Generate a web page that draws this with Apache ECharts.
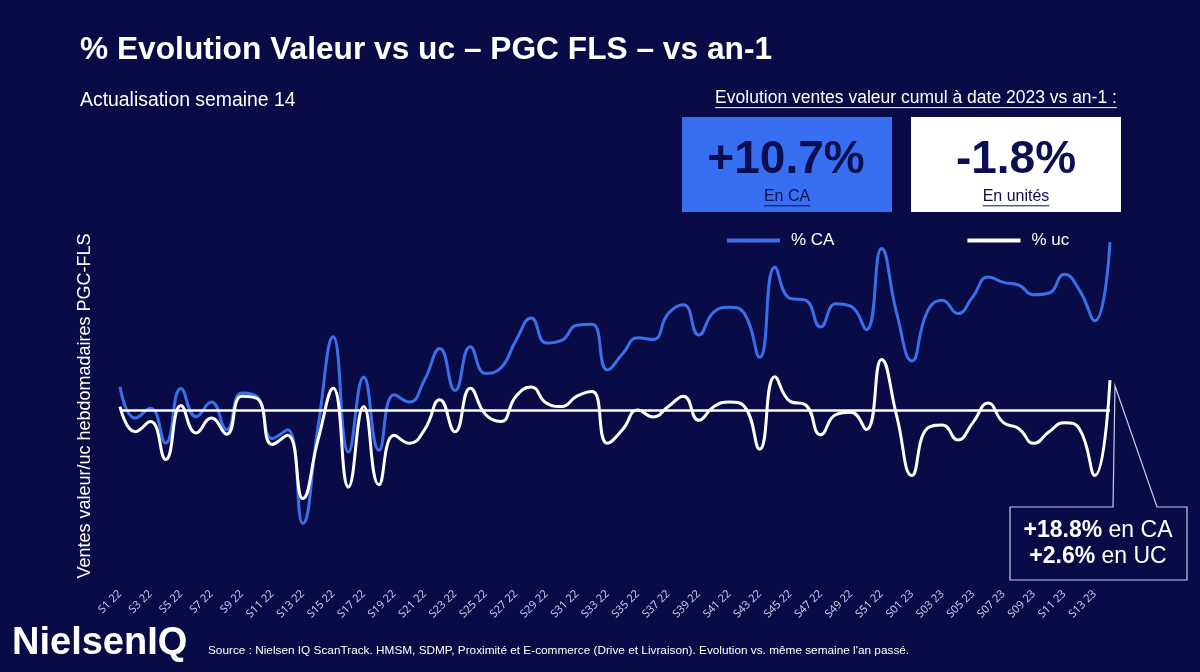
<!DOCTYPE html>
<html><head><meta charset="utf-8">
<script src="https://cdn.jsdelivr.net/npm/echarts/dist/echarts.min.js"></script>
<style>html,body{margin:0;padding:0;background:#090b47;}#c{width:1200px;height:672px;}</style>
</head><body><div id="c"></div>
<script>
// ---- data ----
const weeks = ["S1 22","S2 22","S3 22","S4 22","S5 22","S6 22","S7 22","S8 22","S9 22","S10 22",
"S11 22","S12 22","S13 22","S14 22","S15 22","S16 22","S17 22","S18 22","S19 22","S20 22",
"S21 22","S22 22","S23 22","S24 22","S25 22","S26 22","S27 22","S28 22","S29 22","S30 22",
"S31 22","S32 22","S33 22","S34 22","S35 22","S36 22","S37 22","S38 22","S39 22","S40 22",
"S41 22","S42 22","S43 22","S44 22","S45 22","S46 22","S47 22","S48 22","S49 22","S50 22",
"S51 22","S52 22","S01 23","S02 23","S03 23","S04 23","S05 23","S06 23","S07 23","S08 23",
"S09 23","S10 23","S11 23","S12 23","S13 23","S14 23"];
const caValues = [2.6,-0.9,0.2,-3.7,2.4,-0.75,0.9,-2.2,1.9,1.5,
-3.2,-2.2,-12.7,-1.9,8.2,-4.7,3.7,-4.5,1.7,0.9,
3.4,6.9,2.2,7.1,4.1,4.7,7.8,10.3,7.5,7.8,
9.5,9.6,4.5,6.3,8.1,7.9,10.8,11.8,8.4,11.0,
11.5,10.8,5.9,16.0,12.5,12.3,9.3,11.9,11.6,9.0,
18.1,10.8,5.5,11.0,12.3,10.8,12.7,14.9,14.3,14.0,
12.9,13.1,15.2,13.4,10.0,18.8];
const ucValues = [0.3,-1.9,-1.0,-4.3,0.4,-2.0,-0.7,-2.1,1.2,1.0,
-3.0,-2.2,-7.7,-2.6,1.9,-6.7,0.3,-6.5,-2.2,-2.9,
-1.7,0.9,-1.9,1.9,-0.4,-1.0,1.2,2.0,0.6,0.3,
1.2,1.6,-2.9,-1.7,0.0,-0.6,0.3,1.2,-0.9,0.3,
0.7,0.3,-3.4,2.9,0.75,0.45,-2.15,-0.4,-0.2,-1.7,
4.4,-0.55,-5.7,-1.6,-1.3,-2.6,-1.1,0.6,-1.1,-1.6,
-2.9,-1.9,-1.1,-1.65,-5.7,2.6];
const seriesNames = ["% CA","% uc"];
const cumulCA = "+10.7%";
const cumulUC = "-1.8%";
const lastCA = "+18.8%";
const lastUC = "+2.6%";

// ---- styling ----
const BG = "#090b47", BLUE = "#3a6fe9", BOXBLUE = "#386ef2", NAVY = "#0b0f4f";
const FF = "'Liberation Sans', Arial, sans-serif";
const cv = document.createElement('canvas').getContext('2d');
function tw(t, font){ cv.font = font; return cv.measureText(t).width; }

function underlined(text, cx, cy, size, color, bold){
  const font = (bold?'bold ':'') + size + 'px ' + FF;
  const w = tw(text, font);
  return [
    {type:'text', style:{text:text, x:cx, y:cy, font:font, fill:color, align:'center', verticalAlign:'middle', textAlign:'center', textVerticalAlign:'middle'}},
    {type:'line', shape:{x1:cx-w/2, y1:cy+size*0.55, x2:cx+w/2, y2:cy+size*0.55}, style:{stroke:color, lineWidth:1}}
  ];
}

const graphics = [
  {type:'text', style:{text:'% Evolution Valeur vs uc – PGC FLS – vs an-1', x:80, y:50, font:"bold 31.7px "+FF, fill:'#fff', verticalAlign:'middle', textVerticalAlign:'middle'}},
  {type:'text', style:{text:'Actualisation semaine 14', x:80, y:101, font:"19.4px "+FF, fill:'#fff', verticalAlign:'middle', textVerticalAlign:'middle'}},
  ...underlined('Evolution ventes valeur cumul à date 2023 vs an-1 :', 916, 98, 17.5, '#fff', false),
  {type:'rect', shape:{x:682, y:117, width:210, height:95}, style:{fill:BOXBLUE}},
  {type:'rect', shape:{x:911, y:117, width:210, height:95}, style:{fill:'#fff'}},
  {type:'text', style:{text:cumulCA, x:786, y:160, font:"bold 46px "+FF, fill:NAVY, align:'center', verticalAlign:'middle', textAlign:'center', textVerticalAlign:'middle'}},
  {type:'text', style:{text:cumulUC, x:1016, y:160, font:"bold 46px "+FF, fill:NAVY, align:'center', verticalAlign:'middle', textAlign:'center', textVerticalAlign:'middle'}},
  ...underlined('En CA', 787, 197, 16, NAVY, false),
  ...underlined('En unités', 1016, 197, 16, NAVY, false),
  {type:'text', rotation:Math.PI/2, x:85, y:406, style:{text:'Ventes valeur/uc hebdomadaires PGC-FLS', x:0, y:0, font:"18px "+FF, fill:'#fff', align:'center', verticalAlign:'middle', textAlign:'center', textVerticalAlign:'middle'}},
  {type:'polyline', shape:{points:[[1010,507],[1113,507],[1115,386],[1157,507],[1187,507],[1187,580],[1010,580],[1010,507]]}, style:{stroke:'#c9cbe6', lineWidth:1.2, fill:null}},
  {type:'text', style:{rich:{b:{font:"bold 23px "+FF, fill:'#fff'}, n:{font:"23px "+FF, fill:'#fff'}}, text:'{b|'+lastCA+'}{n| en CA}', x:1098, y:531, align:'center', verticalAlign:'middle', textAlign:'center', textVerticalAlign:'middle'}},
  {type:'text', style:{rich:{b:{font:"bold 23px "+FF, fill:'#fff'}, n:{font:"23px "+FF, fill:'#fff'}}, text:'{b|'+lastUC+'}{n| en UC}', x:1098, y:557, align:'center', verticalAlign:'middle', textAlign:'center', textVerticalAlign:'middle'}},
  {type:'text', style:{text:'NielsenIQ', x:12, y:644, font:"bold 38px "+FF, fill:'#fff', verticalAlign:'middle', textVerticalAlign:'middle'}},
  {type:'text', style:{text:"Source : Nielsen IQ ScanTrack. HMSM, SDMP, Proximité et E-commerce (Drive et Livraison). Evolution vs. même semaine l'an passé.", x:208, y:651, font:"11.8px "+FF, fill:'#fff', verticalAlign:'middle', textVerticalAlign:'middle'}}
];

const chart = echarts.init(document.getElementById('c'), null, {renderer:'canvas'});
chart.setOption({
  backgroundColor: BG,
  animation: false,
  grid: {left:120, right:90, top:200, bottom:88, containLabel:false},
  legend: {data: seriesNames, left:722, top:227, icon:'rect', itemWidth:53, itemHeight:4, itemGap:133,
    textStyle:{color:'#fff', fontSize:17, fontFamily:FF, padding:[0,0,0,6]}},
  xAxis: {type:'category', data:weeks, boundaryGap:false,
    axisLine:{show:false}, axisTick:{show:false}, splitLine:{show:false},
    axisLabel:{interval:1, rotate:45, color:'#d6d8f4', fontSize:11, fontFamily:"'Open Sans', sans-serif", margin:8}},
  yAxis: [
    {type:'value', min:-19.48, max:23.52, show:false, splitLine:{show:false}},
    {type:'value', min:-15.13, max:18.26, show:false, splitLine:{show:false}}
  ],
  series: [
    {name:seriesNames[0], type:'line', yAxisIndex:0, data:caValues, smooth:0.5, showSymbol:false,
      lineStyle:{color:BLUE, width:3}, itemStyle:{color:BLUE}, z:3},
    {name:seriesNames[1], type:'line', yAxisIndex:1, data:ucValues, smooth:0.5, showSymbol:false,
      lineStyle:{color:'#ffffff', width:3}, itemStyle:{color:'#ffffff'}, z:4,
      markLine:{silent:true, symbol:'none', label:{show:false}, lineStyle:{color:'#fff', width:2.5, type:'solid'},
        data:[{yAxis:0}]}}
  ],
  graphic: graphics
});
</script></body></html>
